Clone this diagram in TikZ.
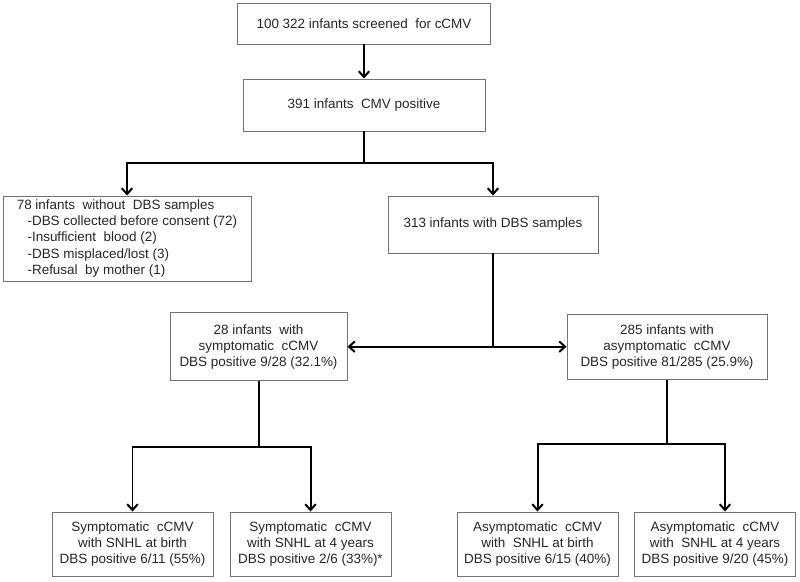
\documentclass[tikz,border=0pt]{standalone}
\usepackage{fontspec}
\setmainfont{Liberation Sans}
\usepackage{tikz}
\usetikzlibrary{arrows.meta}

\begin{document}
\begin{tikzpicture}[
    flowbox/.style={draw=black!55, line width=0.8pt, inner sep=2pt, align=center, text=black!85},
    flowline/.style={line width=1.7pt},
    flowarrow/.style={line width=1.7pt, -{Straight Barb[length=5pt,width=9pt]}},
    font=\fontsize{11.5}{13.7}\selectfont
]

    \useasboundingbox (0,0) rectangle (24,17.43);

    % Screening and first split
    \node[flowbox, minimum width=7.59cm, minimum height=1.23cm] (screened) at (10.92,16.725) {100 322 infants screened\ \ for cCMV};
    \node[flowbox, minimum width=7.26cm, minimum height=1.56cm] (positive) at (10.92,14.28) {391 infants\ \ CMV positive};

    \draw[flowarrow] (screened) -- (positive);

    \node[flowbox, align=left, minimum width=7.44cm, minimum height=2.55cm] (without) at (3.81,10.275)
        {78 infants\ \ without\ \ DBS samples\\
         \hspace*{0.8em}-DBS collected before consent (72)\\
         \hspace*{0.8em}-Insufficient\ \ blood (2)\\
         \hspace*{0.8em}-DBS misplaced/lost (3)\\
         \hspace*{0.8em}-Refusal\ \ by mother (1)};
    \node[flowbox, minimum width=6.3cm, minimum height=1.71cm] (withdbs) at (14.79,10.695) {313 infants with DBS samples};

    \coordinate (split) at (10.92,12.54);
    \draw[flowline] (positive) -- (split);
    \draw[flowarrow] (split) -| (without);
    \draw[flowarrow] (split) -| (withdbs);

    % Symptomatic / asymptomatic
    \node[flowbox, minimum width=5.31cm, minimum height=2.04cm] (symp) at (7.755,7.03)
        {28 infants\ \ with\\ symptomatic\ \ cCMV\\ DBS positive 9/28 (32.1\%)};
    \node[flowbox, minimum width=6.0cm, minimum height=1.95cm] (asymp) at (20.01,7.03)
        {285 infants with\\ asymptomatic\ \ cCMV\\ DBS positive 81/285 (25.9\%)};

    \draw[flowline] (withdbs) -- (withdbs |- symp);
    \draw[flowarrow] (withdbs |- symp) -- (symp);
    \draw[flowarrow] (withdbs |- symp) -- (asymp);

    % SNHL outcomes
    \node[flowbox, minimum width=4.83cm, minimum height=1.92cm] (sbirth) at (3.975,1.11)
        {Symptomatic\ \ cCMV\\ with SNHL at birth\\ DBS positive 6/11 (55\%)};
    \node[flowbox, minimum width=4.83cm, minimum height=1.92cm] (syears) at (9.315,1.11)
        {Symptomatic\ \ cCMV\\ with SNHL at 4 years\\ DBS positive 2/6 (33\%)*};
    \node[flowbox, minimum width=4.83cm, minimum height=1.92cm] (abirth) at (16.125,1.11)
        {Asymptomatic\ \ cCMV\\ with\ \ SNHL at birth\\ DBS positive 6/15 (40\%)};
    \node[flowbox, minimum width=4.83cm, minimum height=1.92cm] (ayears) at (21.45,1.11)
        {Asymptomatic\ \ cCMV\\ with\ \ SNHL at 4 years\\ DBS positive 9/20 (45\%)};

    \coordinate (sympsplit) at (7.755,4.02);
    \draw[flowline] (symp) -- (sympsplit);
    \draw[flowarrow] (sympsplit) -| (sbirth);
    \draw[flowarrow] (sympsplit) -| (syears);

    \coordinate (asympsplit) at (20.01,4.11);
    \draw[flowline] (asymp) -- (asympsplit);
    \draw[flowarrow] (asympsplit) -| (abirth);
    \draw[flowarrow] (asympsplit) -| ([xshift=0.3cm]ayears.north);

\end{tikzpicture}
\end{document}
